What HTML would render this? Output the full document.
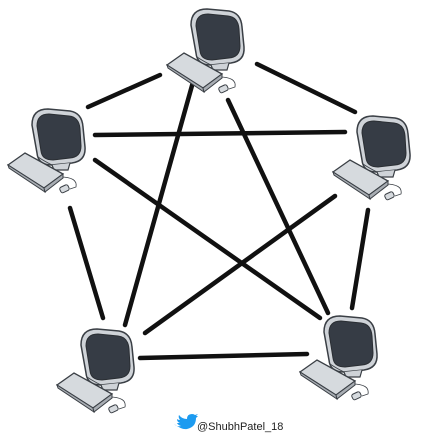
<!DOCTYPE html>
<html><head><style>body{margin:0;background:#fff}svg{display:block}</style></head><body>
<svg width="427" height="437" viewBox="0 0 427 437" xmlns="http://www.w3.org/2000/svg">
<defs>
<g id="pc">
  <path d="M24,20 Q24,4 40,4 L62,6 Q74,8 75,22 L77,42 Q78,56 64,58 L44,60 Q30,60 29,48 Z" fill="#cfd3d8" stroke="#3a3f45" stroke-width="1.5"/>
  <path d="M29,21 Q29,9 41,9 L61,11 Q71,12 72,24 L73,41 Q73,52 62,53 L45,55 Q34,55 33,46 Z" fill="#363c45" stroke="#2a2e33" stroke-width="1"/>
  <path d="M44,60 L46,65 L60,65 L62,58" fill="#cfd3d8" stroke="#3a3f45" stroke-width="1.2"/>
  <path d="M30,52 Q36,56 44,60 M52,72 Q70,72 68,82 L62,84" fill="none" stroke="#3a3f45" stroke-width="0.8"/>
  <polygon points="0,60 17,48 55,69 36,83" fill="#d6dade" stroke="#3a3f45" stroke-width="1.3"/>
  <polygon points="0,60 1,63 37,87 36,83" fill="#a8adb3" stroke="#3a3f45" stroke-width="1"/>
  <polygon points="37,87 55,73 55,69 36,83" fill="#a8adb3" stroke="#3a3f45" stroke-width="1"/>
  <rect x="52" y="81" width="9" height="6" rx="2" transform="rotate(-25 56 84)" fill="#d6dade" stroke="#3a3f45" stroke-width="1"/>
</g>
</defs>
<g stroke="#111" stroke-width="4.5" stroke-linecap="round">
<line x1="88" y1="107" x2="160" y2="75"/>
<line x1="257" y1="64" x2="355" y2="112"/>
<line x1="95" y1="135" x2="345" y2="132"/>
<line x1="193" y1="82" x2="125" y2="325"/>
<line x1="228" y1="100" x2="328" y2="313"/>
<line x1="95" y1="160" x2="320" y2="318"/>
<line x1="335" y1="196" x2="145" y2="333"/>
<line x1="70" y1="208" x2="103" y2="318"/>
<line x1="368" y1="210" x2="352" y2="308"/>
<line x1="140" y1="358" x2="307" y2="354"/>
</g>
<use href="#pc" x="167" y="5"/>
<use href="#pc" x="8" y="105"/>
<use href="#pc" x="333" y="112"/>
<use href="#pc" x="57" y="325"/>
<use href="#pc" x="300" y="312"/>
<path d="M174,424 q3,3 7,2 q-3,-1 -4,-3 q2,0 3,0 q-3,-1 -3,-4 q1,1 3,1 q-2,-3 -1,-5 q3,4 8,4 q0,-5 5,-5 q2,0 3,1 l3,-1 l-2,2 l2,0 l-2,2 q0,9 -9,11 q-5,1 -13,-5z" fill="#1d9bf0"/>
<text x="197" y="430" font-family="Liberation Sans, sans-serif" font-size="11" fill="#222">@ShubhPatel_18</text>
</svg>
</body></html>
